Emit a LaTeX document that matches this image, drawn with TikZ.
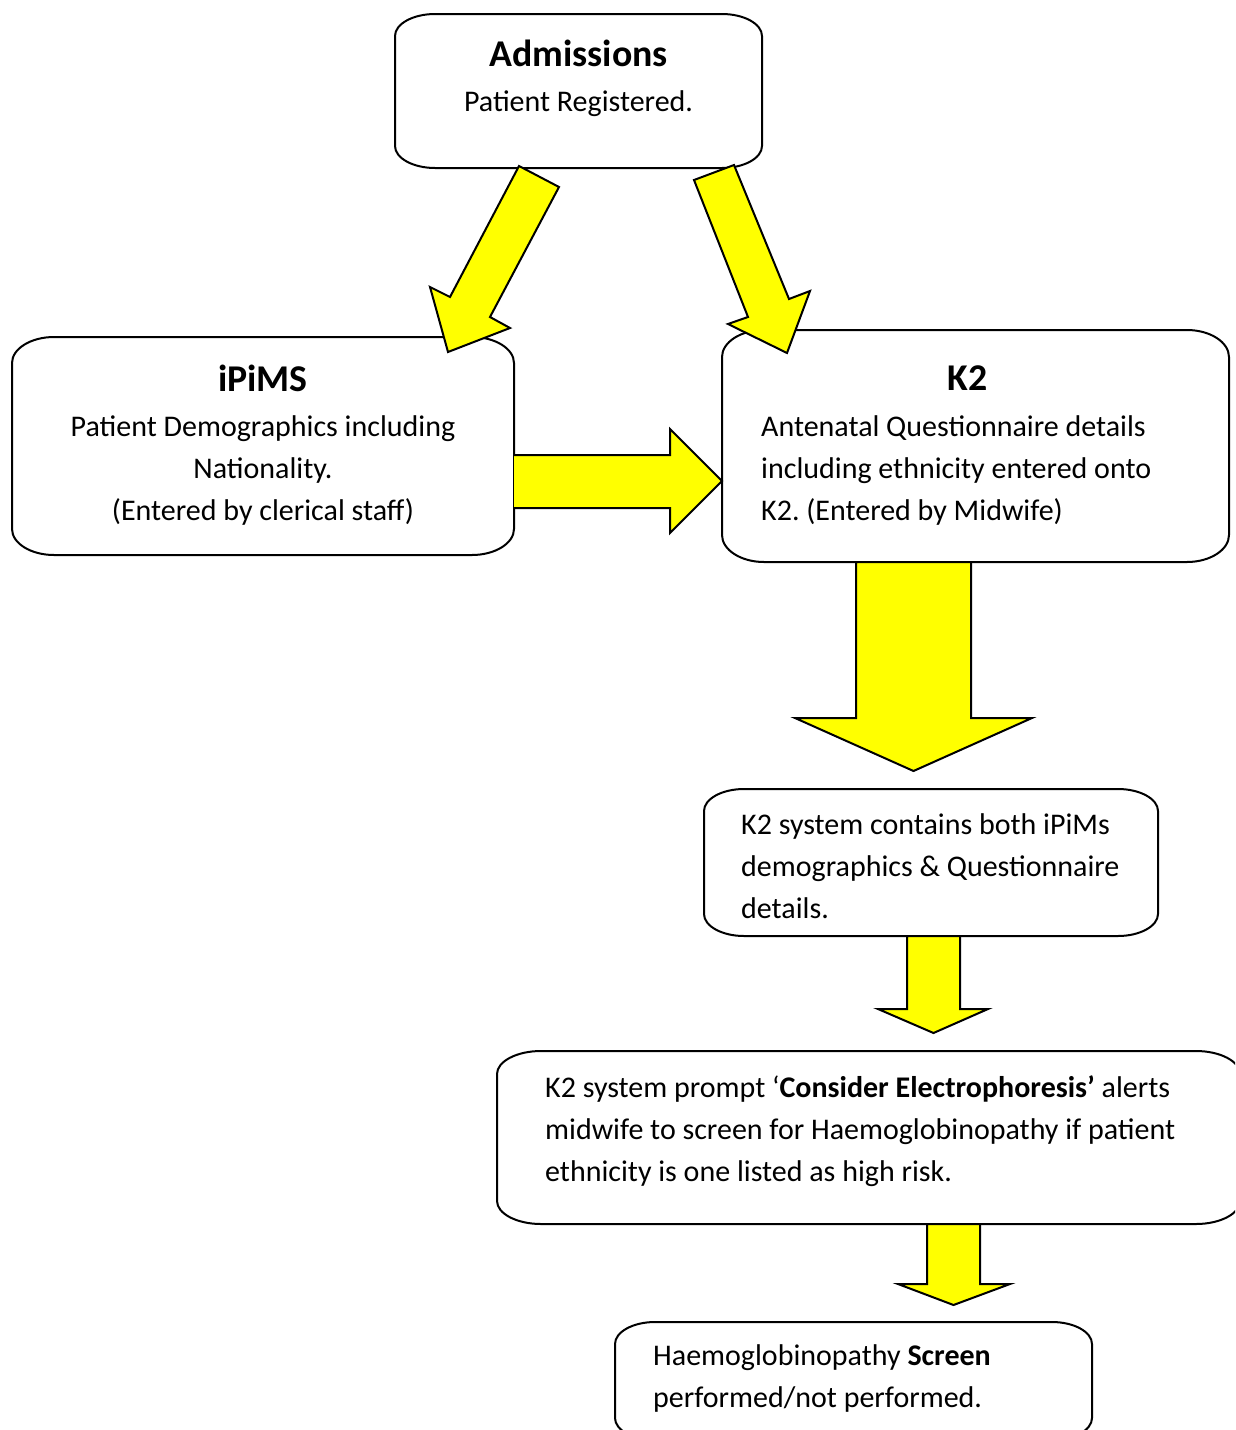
\documentclass[tikz,border=0pt]{standalone}
\usepackage{fontspec}
\setmainfont{Carlito}
\usetikzlibrary{calc}
\frenchspacing
\definecolor{arrowyellow}{HTML}{FFFF00}
\newcommand\bodyfont{\fontsize{30}{42}\selectfont}
\newcommand\titlefont{\fontsize{37.8}{42}\selectfont\bfseries}
\newcommand\wbox[3]{%
\draw[outline] ($(#1.north west)+(0,#3)$)
 .. controls +(0,-0.55*#3) and +(-0.55*#2,0) .. ($(#1.north west)+(#2,0)$)
 -- ($(#1.north east)+(-#2,0)$)
 .. controls +(0.55*#2,0) and +(0,-0.55*#3) .. ($(#1.north east)+(0,#3)$)
 -- ($(#1.south east)+(0,-#3)$)
 .. controls +(0,0.55*#3) and +(0.55*#2,0) .. ($(#1.south east)+(-#2,0)$)
 -- ($(#1.south west)+(#2,0)$)
 .. controls +(-0.55*#2,0) and +(0,0.55*#3) .. ($(#1.south west)+(0,-#3)$)
 -- cycle;}
\begin{document}
\begin{tikzpicture}[x=1pt,y=-1pt,
  boxnode/.style={draw=none,inner sep=0pt,outer sep=0pt},
  outline/.style={draw=black,line width=2pt,fill=white},
  blockarrow/.style={draw=black,line width=2pt,fill=arrowyellow,line join=miter},
  title/.style={inner sep=0pt,anchor=base,font=\titlefont},
  bodytext/.style={inner sep=0pt,font=\bodyfont}]
\useasboundingbox (0,0) rectangle (1235,1430);
\clip (0,0) rectangle (1235,1430);
\fill[white] (0,0) rectangle (1235,1430);

% box frames (named)
\node[boxnode,minimum width=367pt,minimum height=154pt] (adm) at (578.5,91) {};
\node[boxnode,minimum width=502pt,minimum height=218pt] (ipims) at (263,446) {};
\node[boxnode,minimum width=507pt,minimum height=232pt] (k2) at (975.5,446) {};
\node[boxnode,minimum width=454pt,minimum height=147pt] (both) at (931,862.5) {};
\node[boxnode,minimum width=743pt,minimum height=173pt] (prompt) at (868.5,1137.5) {};
\node[boxnode,minimum width=477pt,minimum height=118pt] (screen) at (853.5,1381) {};

\wbox{adm}{40}{22}
\wbox{ipims}{42}{26}
\wbox{k2}{42}{27}
\wbox{both}{40}{22}
\wbox{prompt}{44}{23}
\wbox{screen}{40}{22}

% texts
\node[title] (admt) at (578.5,66) {Admissions};
\node[bodytext,anchor=base] (admb) at (578.5,111) {Patient Registered.};

\node[title] (ipimst) at (263,391) {iPiMS};
\node[bodytext,anchor=north,align=center] (ipimsb) at (263,406.6)
  {\strut Patient Demographics including\\\strut Nationality.\\\strut (Entered by clerical staff)};

\node[title] (k2t) at (967.5,390) {K2};
\node[bodytext,anchor=north west,align=left] (k2b) at (761,406.6)
  {\strut Antenatal Questionnaire details\\\strut including ethnicity entered onto\\\strut K2. (Entered by Midwife)};

\node[bodytext,anchor=north west,align=left] (botht) at (741,804.6)
  {\strut K2 system contains both iPiMs\\\strut demographics \& Questionnaire\\\strut details.};

\node[bodytext,anchor=north west,align=left] (promptt) at (545,1067.6)
  {\strut K2 system prompt ‘\textbf{Consider Electrophoresis’} alerts\\\strut midwife to screen for Haemoglobinopathy if patient\\\strut ethnicity is one listed as high risk.};

\node[bodytext,anchor=north west,align=left] (screent) at (653,1335.6)
  {\strut Haemoglobinopathy \textbf{Screen}\\\strut performed/not performed.};

% block arrows
\draw[blockarrow] (519,166) -- (559,187) -- (490,317) -- (510,328) -- (448,352) -- (430,287) -- (450,297) -- cycle;
\draw[blockarrow] (694,180) -- (734,165) -- (789,299) -- (810,291) -- (787,353) -- (728,324) -- (748,317) -- cycle;
\draw[blockarrow] (514,455) -- (670,455) -- (670,429) -- (722,481) -- (670,533) -- (670,508) -- (514,508);
\draw[blockarrow] (856,562) -- (971,562) -- (971,718) -- (1032,718) -- (913.5,771) -- (795,718) -- (856,718) -- cycle;
\draw[blockarrow] (907,936) -- (960,936) -- (960,1009) -- (988,1009) -- (933.5,1033) -- (878,1009) -- (907,1009) -- cycle;
\draw[blockarrow] (927,1224) -- (980,1224) -- (980,1284) -- (1010,1284) -- (953.5,1305) -- (898,1284) -- (927,1284) -- cycle;
\end{tikzpicture}
\end{document}
